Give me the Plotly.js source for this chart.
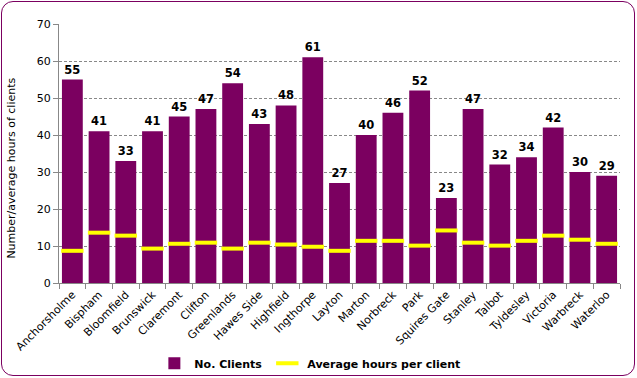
<!DOCTYPE html>
<html><head><meta charset="utf-8">
<script src="https://cdn.plot.ly/plotly-3.0.1.min.js"></script>
<style>
html,body{margin:0;padding:0;background:#fff;}
#wrap{position:relative;width:637px;height:378px;}
#chart{width:637px;height:378px;}
#frame{position:absolute;left:1px;top:1px;width:634px;height:375px;border:1.5px solid #7b0060;border-radius:12px;pointer-events:none;box-sizing:border-box;}
</style></head>
<body><div id="wrap"><div id="chart"></div><div id="frame"></div></div>
<script>
const wards = ["Anchorsholme","Bispham","Bloomfield","Brunswick","Claremont","Clifton","Greenlands","Hawes Side","Highfield","Ingthorpe","Layton","Marton","Norbreck","Park","Squires Gate","Stanley","Talbot","Tyldesley","Victoria","Warbreck","Waterloo"];
const clients = [55,41,33,41,45,47,54,43,48,61,27,40,46,52,23,47,32,34,42,30,29];
const avgHours = [8.7,13.6,12.8,9.3,10.6,10.9,9.3,10.9,10.4,9.8,8.7,11.4,11.4,10.1,14.2,10.9,10.1,11.4,12.8,11.7,10.6];
const yTicks = [0,10,20,30,40,50,60,70];
const yTitle = "Number/average hours of clients";

const font = "DejaVu Sans, Verdana, sans-serif";
const traces = [
  {type:"bar", name:"No. Clients", x:wards, y:clients, marker:{color:"#7b0060"},
   text:clients.map(String), textposition:"outside", cliponaxis:false,
   textfont:{family:font, size:11.5, color:"#000", weight:"bold"}, hoverinfo:"none"},
  {type:"scatter", mode:"markers", name:"Average hours per client", x:wards, y:avgHours,
   marker:{symbol:"line-ew-open", size:16, color:"#ffff00", line:{color:"#ffff00", width:4}}, hoverinfo:"none"}
];
const layout = {
  width:637, height:378,
  margin:{l:59, r:17, t:24, b:95, autoexpand:false},
  paper_bgcolor:"#fff", plot_bgcolor:"#fff",
  font:{family:font, size:11, color:"#000"},
  bargap:0.22,
  showlegend:true,
  legend:{orientation:"h", x:0.17, xanchor:"left", y:-0.31, yanchor:"middle",
    font:{family:font, size:11, weight:"bold"}, itemwidth:30, tracegroupgap:0},
  xaxis:{automargin:false, range:[-0.5, wards.length-0.5], tickangle:-45, showline:true, linecolor:"#888", linewidth:1, ticks:"outside", tickson:"boundaries",
    ticklen:5, tickcolor:"#888", showgrid:false, tickfont:{family:font, size:11}},
  yaxis:{automargin:false, range:[0,70], tickvals:yTicks, showline:true, linecolor:"#888", linewidth:1, ticks:"outside", ticklen:5,
    tickcolor:"#888", showgrid:true, gridcolor:"#888", griddash:"3px,2px", gridwidth:1, zeroline:false,
    tickfont:{family:font, size:11}},
  annotations:[{text:yTitle, xref:"paper", yref:"paper", x:-0.084, y:0.445, textangle:-90,
    showarrow:false, xanchor:"center", yanchor:"middle", font:{family:font, size:11, color:"#000"}}]
};
Plotly.newPlot("chart", traces, layout, {displayModeBar:false, staticPlot:true});
</script></body></html>
